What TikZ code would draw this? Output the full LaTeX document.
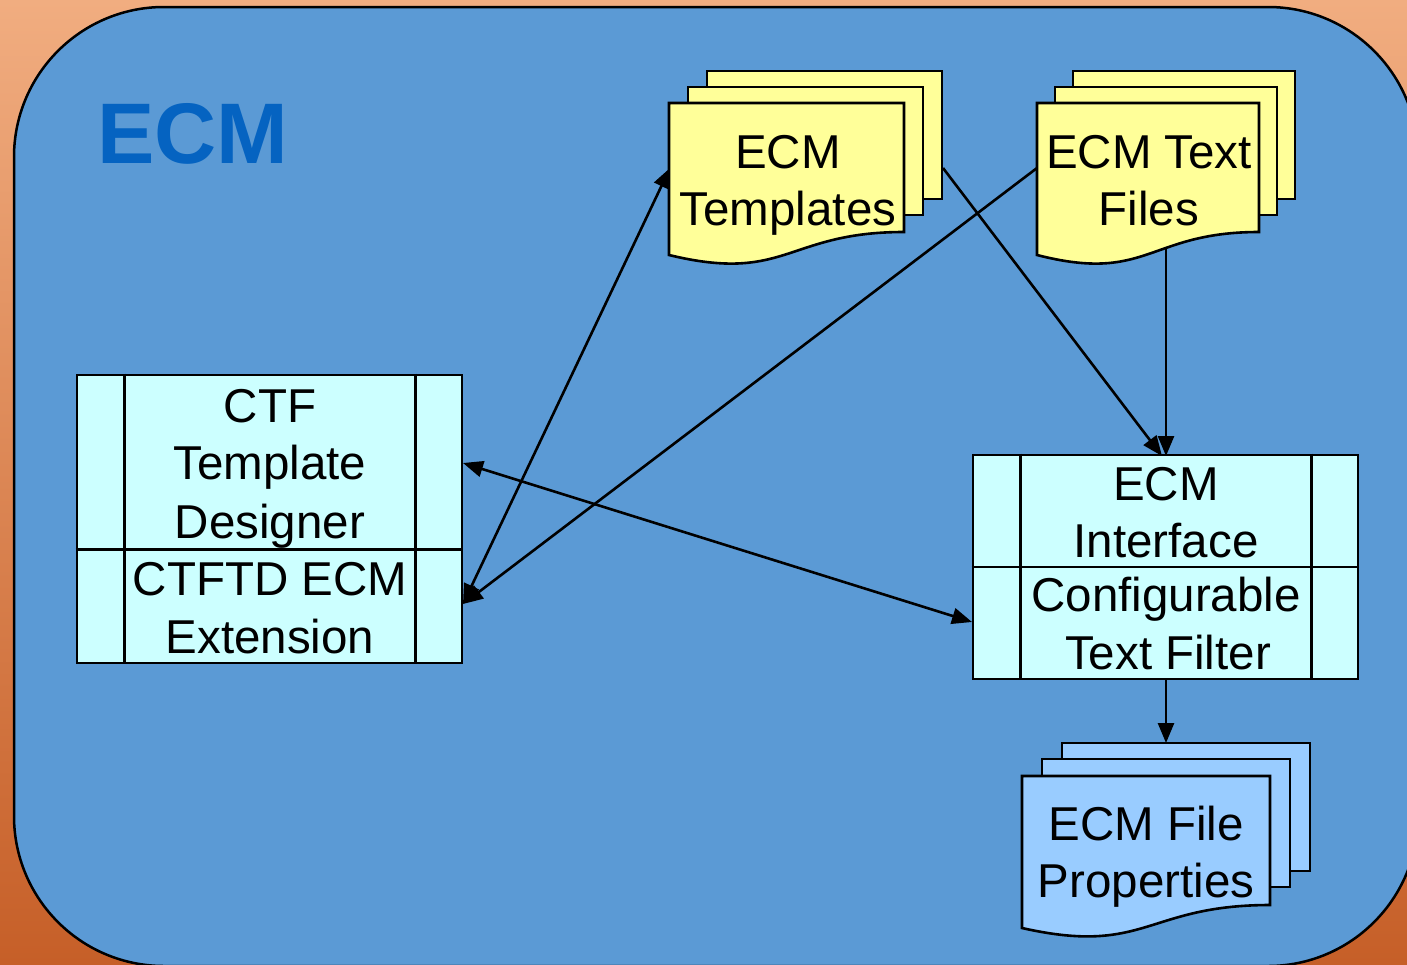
\documentclass[tikz,border=0pt]{standalone}
\usepackage{fontspec}
\setmainfont{Liberation Sans}
\usetikzlibrary{arrows.meta}
\definecolor{peachtop}{HTML}{F1AD80}
\definecolor{rustbot}{HTML}{C65F28}
\definecolor{panelblue}{HTML}{5B9AD5}
\definecolor{titleblue}{HTML}{0563C1}
\definecolor{docyellow}{HTML}{FFFF99}
\definecolor{boxcyan}{HTML}{CCFFFF}
\definecolor{docblue}{HTML}{99CCFF}
\begin{document}
\begin{tikzpicture}[x=1pt,y=-1pt,
  sheet/.style={draw=black, line width=2.6pt, fill=#1, inner sep=0pt},
  compbox/.style={draw=black, line width=2.6pt, fill=boxcyan, inner sep=0pt},
  divline/.style={draw=black, line width=2.6pt},
  lbl/.style={font=\fontsize{47.5}{54}\selectfont, inner sep=0pt, anchor=base, text=black},
  conn/.style={draw=black, line width=2.6pt, arrows={-Triangle[length=20pt,width=16pt]}},
  conn2/.style={draw=black, line width=2.6pt, arrows={Triangle[length=20pt,width=16pt]-Triangle[length=20pt,width=16pt]}}]
\useasboundingbox (0,0) rectangle (1407,964);
\clip (0,0) rectangle (1407,964);
% background
\shade[top color=peachtop, bottom color=rustbot] (0,0) rectangle (1407,964);
\draw[line width=2.5pt, fill=panelblue, rounded corners=150pt] (14,7) rectangle (1418,966);
\node[font=\fontsize{86}{90}\selectfont\bfseries, text=titleblue, inner sep=0pt, anchor=base west] (title) at (97,163) {ECM};

% ECM Templates stack
\node[sheet=docyellow, minimum width=235pt, minimum height=128pt] (tplB) at (824.5,135) {};
\node[sheet=docyellow, minimum width=235pt, minimum height=128pt] (tplM) at (805.5,151) {};
\draw[sheet=docyellow] (669,103) -- (904,103) -- (904,232) .. controls (786.5,232) and (786.5,283.5) .. (669,255) -- cycle;
\coordinate (tplW) at (670,168);
\coordinate (tplE) at (943,168);
\node[lbl] (tplT1) at (788,168) {ECM};
\node[lbl] (tplT2) at (788,225) {Templates};

% ECM Text Files stack
\node[sheet=docyellow, minimum width=222pt, minimum height=128pt] (txtB) at (1184,135) {};
\node[sheet=docyellow, minimum width=222pt, minimum height=128pt] (txtM) at (1166,151) {};
\draw[sheet=docyellow] (1037,103) -- (1259,103) -- (1259,232) .. controls (1148,232) and (1148,283.5) .. (1037,255) -- cycle;
\coordinate (txtW) at (1037,168);
\coordinate (txtS) at (1166,249);
\node[lbl] (txtT1) at (1149,168) {ECM Text};
\node[lbl] (txtT2) at (1149,225) {Files};

% CTF Template Designer box
\node[compbox, minimum width=385pt, minimum height=288pt] (ctf) at (269.5,519) {};
\draw[divline] ([xshift=49pt]ctf.north west) -- ([xshift=49pt]ctf.south west);
\draw[divline] ([xshift=-48pt]ctf.north east) -- ([xshift=-48pt]ctf.south east);
\draw[divline] ([yshift=-176pt]ctf.north west) -- ([yshift=-176pt]ctf.north east);
\node[lbl] (ctfT1) at (270,422) {CTF};
\node[lbl] (ctfT2) at (270,479) {Template};
\node[lbl] (ctfT3) at (270,538) {Designer};
\node[lbl] (ctfT4) at (270,595) {CTFTD ECM};
\node[lbl] (ctfT5) at (270,653) {Extension};
\coordinate (ctfUp) at (463,463);
\coordinate (ctfLo) at (463,604);

% ECM Interface box
\node[compbox, minimum width=385pt, minimum height=224pt] (eif) at (1165.5,567) {};
\draw[divline] ([xshift=49pt]eif.north west) -- ([xshift=49pt]eif.south west);
\draw[divline] ([xshift=-48pt]eif.north east) -- ([xshift=-48pt]eif.south east);
\draw[divline] (eif.west) -- (eif.east);
\node[lbl] (eifT1) at (1166,500) {ECM};
\node[lbl] (eifT2) at (1166,557) {Interface};
\node[lbl] (eifT3) at (1166,611) {Configurable};
\node[lbl] (eifT4) at (1168,669) {Text Filter};
\coordinate (eifN) at (1166,456);
\coordinate (eifNW) at (1162,456);
\coordinate (eifW) at (972,622);
\coordinate (eifS) at (1166,679);

% ECM File Properties stack
\node[sheet=docblue, minimum width=248pt, minimum height=128pt] (fpB) at (1186,807) {};
\node[sheet=docblue, minimum width=248pt, minimum height=128pt] (fpM) at (1166,823) {};
\draw[sheet=docblue] (1022,776) -- (1270,776) -- (1270,905) .. controls (1146,905) and (1146,956) .. (1022,928) -- cycle;
\coordinate (fpN) at (1166,743);
\node[lbl] (fpT1) at (1146,840) {ECM File};
\node[lbl] (fpT2) at (1146,897) {Properties};

% connectors
\draw[conn] (txtS) -- (eifN);
\draw[conn] (tplE) -- (eifNW);
\draw[conn] (eifS) -- (fpN);
\draw[conn2] (ctfUp) -- (eifW);
\draw[conn2] (ctfLo) -- (tplW);
\draw[conn] (txtW) -- (ctfLo);
\end{tikzpicture}
\end{document}
